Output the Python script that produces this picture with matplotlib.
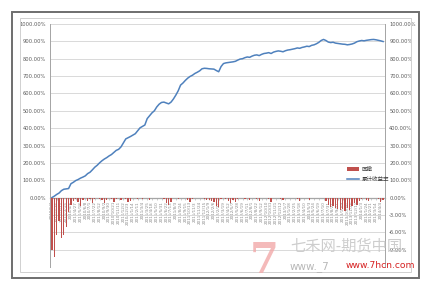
import matplotlib
matplotlib.use("Agg")
import matplotlib.pyplot as plt
from matplotlib.patches import Rectangle
import numpy as np

# cumulative return (%), one value per period
cum_return = [
    0, 8, 18, 26, 40, 48, 50, 52, 80, 88,
    98, 104, 112, 118, 125, 138, 146, 160, 175, 186,
    200, 212, 222, 230, 240, 248, 260, 272, 278, 292,
    315, 338, 345, 352, 360, 368, 385, 402, 410, 418,
    455, 472, 488, 500, 522, 538, 548, 550, 545, 540,
    550, 568, 590, 615, 648, 660, 675, 688, 698, 705,
    715, 722, 730, 742, 745, 744, 742, 741, 740, 732,
    725, 755, 772, 776, 778, 780, 782, 785, 792, 798,
    800, 806, 810, 808, 815, 820, 822, 818, 825, 830,
    832, 835, 830, 838, 842, 845, 843, 840, 846, 850,
    852, 855, 858, 862, 860, 865, 868, 872, 870, 877,
    880, 886, 894, 905, 911, 905, 896, 893, 895, 890,
    888, 886, 884, 883, 880, 882, 885, 890, 898, 902,
    905, 903, 906, 908, 910, 911, 909, 906, 903, 899,
]

# drawdown (%), same periods
drawdown = [
    -9.0, -10.2, -6.5, -4.0, -7.0, -6.5, -5.0, -2.5, -1.2, -0.6,
    -0.3, -0.8, -1.5, -0.4, 0, -0.6, -0.2, -0.9, -0.3, 0,
    -0.2, -0.5, -1.0, -0.4, 0, -0.3, -0.8, -0.2, 0, -0.5,
    0, -0.2, -0.8, -0.6, -0.1, 0, -0.3, 0, -0.2, -0.1,
    0, -0.4, 0, 0, -0.1, 0, 0, -0.3, -0.9, -1.3,
    -0.8, 0, 0, -0.2, 0, 0, -0.1, -0.4, -0.7, -0.3,
    0, -0.1, 0, 0, -0.2, -0.4, -0.5, -0.6, -0.8, -1.4,
    -1.6, -0.3, 0, -0.2, -0.6, -1.0, -0.5, -0.8, -0.3, 0,
    0, -0.2, 0, -0.4, 0, 0, -0.3, -0.6, -0.1, 0,
    0, -0.2, -0.7, 0, -0.1, 0, -0.3, -0.5, 0, 0,
    -0.1, 0, 0, -0.2, -0.6, 0, 0, -0.1, -0.4, 0,
    0, 0, 0, 0, 0, -0.6, -1.2, -1.6, -1.4, -1.8,
    -1.9, -2.1, -2.0, -2.4, -1.8, -2.2, -1.5, -1.0, -1.3, -0.6,
    -0.2, 0, -0.4, -0.6, 0, 0, -0.1, -0.3, -0.7, -0.5,
]

date_labels = [
    "2010/1/4", "2010/1/25", "2010/2/22", "2010/3/15", "2010/4/6", "2010/4/27",
    "2010/5/18", "2010/6/8", "2010/7/1", "2010/7/22", "2010/8/12", "2010/9/2",
    "2010/9/30", "2010/10/21", "2010/11/11", "2010/12/2", "2010/12/23",
    "2011/1/14", "2011/2/11", "2011/3/4", "2011/3/25", "2011/4/18", "2011/5/10",
    "2011/5/31", "2011/6/22", "2011/7/13", "2011/8/3", "2011/8/24", "2011/9/15",
    "2011/10/13", "2011/11/3", "2011/11/24", "2011/12/15",
    "2012/1/9", "2012/2/6", "2012/2/27", "2012/3/19", "2012/4/12", "2012/5/7",
    "2012/5/28", "2012/6/19", "2012/7/11", "2012/8/1", "2012/8/22", "2012/9/12",
    "2012/10/10", "2012/10/31", "2012/11/21", "2012/12/12",
    "2013/1/7", "2013/1/28", "2013/2/25", "2013/3/18", "2013/4/10", "2013/5/3",
    "2013/5/24", "2013/6/19", "2013/7/10", "2013/7/31", "2013/8/21", "2013/9/11",
    "2013/10/9", "2013/10/30", "2013/11/20", "2013/12/11",
    "2014/1/3", "2014/1/24", "2014/2/21", "2014/3/14", "2014/4/4",
]

left_ticks = list(range(-400, 1001, 100))
right_ticks = list(range(-12, 31, 3))
right_labels = ["", "-9.00%", "-6.00%", "-3.00%", "0.00%", "100.00%", "200.00%",
                "300.00%", "400.00%", "500.00%", "600.00%", "700.00%", "800.00%",
                "900.00%", "1000.00%"]

cjk = ["Noto Sans CJK SC", "DejaVu Sans"]
x = np.arange(len(cum_return))

fig = plt.figure(figsize=(4.29, 2.89), dpi=100)
W, H = 429.0, 289.0

# frames (outer dark border + inner chart area)
fig.patches.append(Rectangle((12 / W, 1 - 278 / H), 407 / W, 266 / H, transform=fig.transFigure,
                             fill=False, ec="#6e6e6e", lw=1.4))
fig.patches.append(Rectangle((20 / W, 1 - 272 / H), 391 / W, 254 / H, transform=fig.transFigure,
                             fill=False, ec="#d0d0d0", lw=0.7))

ax = fig.add_axes([50 / W, 1 - 267 / H, 335 / W, 243 / H])
ax2 = ax.twinx()

ax.set_ylim(-400, 1000)
ax.set_xlim(-0.8, len(x) - 0.2)
ax.set_yticks(left_ticks)
ax.set_yticklabels(["%.2f%%" % t if t >= 0 else "" for t in left_ticks])
ax.grid(axis="y", color="#d9d9d9", lw=0.7)
ax.set_axisbelow(True)

ln, = ax.plot(x, cum_return, color="#4f81bd", lw=1.1, zorder=3)

ax2.set_ylim(-12, 30)
ax2.set_yticks(right_ticks)
ax2.set_yticklabels(right_labels)
bars = ax2.bar(x, drawdown, width=0.55, color="#c0504d", zorder=2)

for a in (ax, ax2):
    a.spines["top"].set_visible(False)
    a.spines["left"].set_color("#a6a6a6")
    a.spines["right"].set_color("#a6a6a6")
    a.spines["left"].set_linewidth(0.7)
    a.spines["right"].set_linewidth(0.7)
ax2.spines["bottom"].set_visible(False)
ax.spines["bottom"].set_position(("data", 0))
ax.spines["bottom"].set_color("#a6a6a6")
ax.spines["bottom"].set_linewidth(0.9)

ax.tick_params(axis="y", labelsize=3.7, colors="#595959", length=0, pad=3)
ax2.tick_params(axis="y", labelsize=3.7, colors="#595959", length=0, pad=3)
ax.set_xticks(x[::2])
ax.set_xticklabels(date_labels, rotation=90, fontsize=3.0, color="#8a8a8a")
ax.tick_params(axis="x", length=1.5, width=0.4, color="#a6a6a6", pad=1)

leg = fig.legend([bars, ln], ["回撤", "累计收益率"], loc="upper left",
                 bbox_to_anchor=(342 / W, 1 - 162 / H), frameon=False,
                 prop={"family": cjk, "size": 4}, handlelength=2.2,
                 handletextpad=0.4, labelspacing=0.9)
for t in leg.get_texts():
    t.set_color("#404040")
leg.legend_handles[0].set_height(3)

# watermark
fig.text(250 / W, 1 - 273 / H, "7", fontsize=30, fontweight="bold", family="DejaVu Serif",
         color="#f2a9a9", alpha=0.8)
fig.text(290 / W, 1 - 246 / H, "七禾网-期货中国", fontsize=11, family=cjk, color="#c8c8c8",
         va="center", alpha=0.9)
fig.text(290 / W, 1 - 267 / H, "www._7", fontsize=7.5, color="#b0b0b0", va="center", alpha=0.9)
fig.text(346 / W, 1 - 266 / H, "www.7hcn.com", fontsize=6.6, color="#d62020", va="center")

fig.savefig("out.png", dpi=100)
